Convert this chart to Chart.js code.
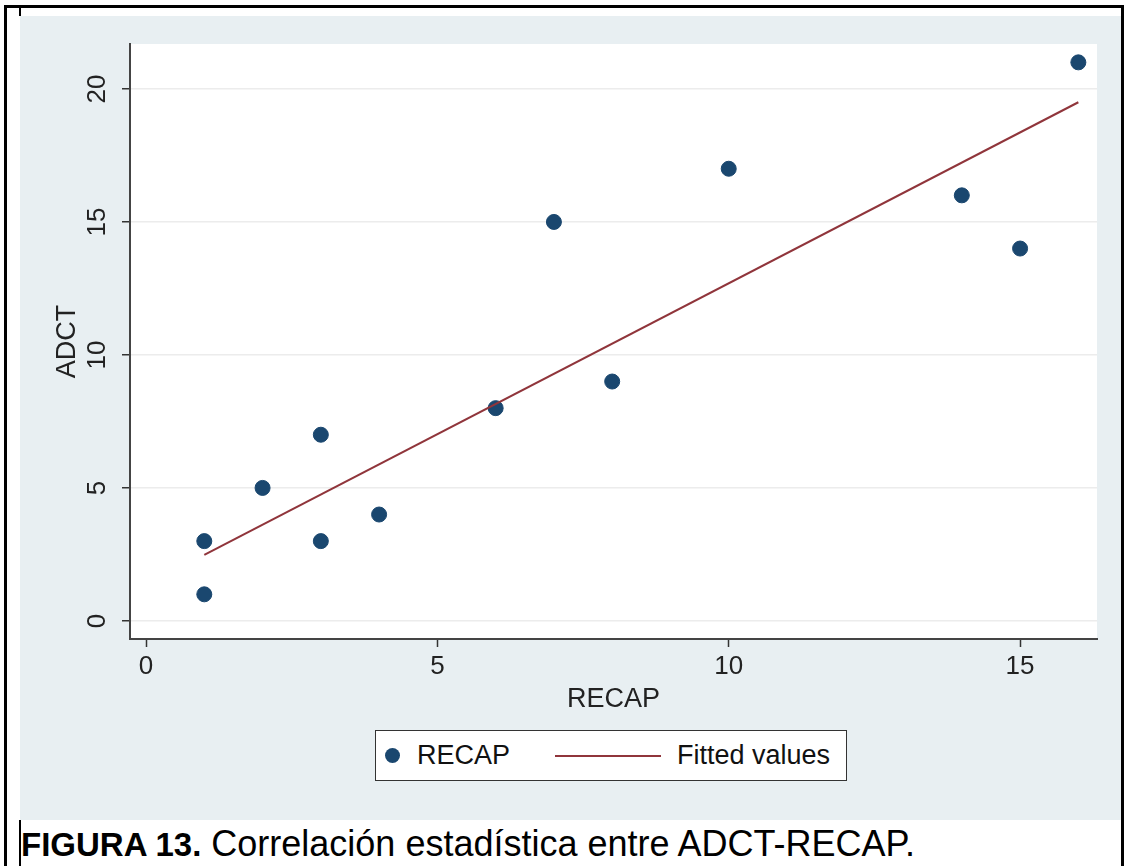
<!DOCTYPE html>
<html>
<head>
<meta charset="utf-8">
<script src="https://cdn.jsdelivr.net/npm/chart.js@4.4.0/dist/chart.umd.min.js"></script>
<style>
  body { margin: 0; background: #fff; width: 1130px; height: 866px; position: relative; overflow: hidden; font-family: "Liberation Sans", Arial, sans-serif; }
  #frame { position: absolute; left: 4px; top: 5px; width: 1114px; height: 870px; border: 3px solid #000; border-bottom: none; }
  .vline { position: absolute; left: 19px; width: 2px; background: #000; }
  #chartBox { position: absolute; left: 20px; top: 16px; width: 1101px; height: 804px; background: #e8eff2; }
  #legend { position: absolute; left: 375px; top: 730px; width: 470px; height: 49px; border: 1.5px solid #333; background: #fff; }
  #legend .dot { position: absolute; left: 9px; top: 17px; width: 15px; height: 15px; border-radius: 50%; }
  #legend .lab { position: absolute; top: 9px; font-size: 27px; color: #111; white-space: nowrap; }
  #legend .seg { position: absolute; left: 179px; top: 24px; width: 106px; height: 2px; }
  #caption { position: absolute; left: 21px; top: 826px; font-size: 36px; line-height: 36px; color: #000; white-space: nowrap; }
  #caption b { font-size: 33px; letter-spacing: 0; }
</style>
</head>
<body>
<div id="frame"></div>
<div class="vline" style="top:8px;height:8px"></div>
<div class="vline" style="top:820px;height:46px"></div>
<div id="chartBox"><canvas id="myChart"></canvas></div>
<div id="legend"></div>
<div id="caption"><b>FIGURA 13.</b> Correlación estadística entre ADCT-RECAP.</div>
<script>
// datos
var recapX = [1, 1, 2, 3, 3, 4, 6, 7, 8, 10, 14, 15, 16]
var adctY = [3, 1, 5, 7, 3, 4, 8, 15, 9, 17, 16, 14, 21]
var fitX = [1, 16]
var fitY = [2.48, 19.5]
var xTicks = [0, 5, 10, 15]
var yTicks = [0, 5, 10, 15, 20]
var seriesNames = ['RECAP', 'Fitted values']

var NAVY = '#1a476f'
var MAROON = '#90353b'

// fondo blanco del area de graficado
var plotBg = {
    id: 'plotBg',
    beforeDraw: function (chart) {
        var a = chart.chartArea
        var ctx = chart.ctx
        ctx.save()
        ctx.fillStyle = '#ffffff'
        ctx.fillRect(a.left, a.top, a.right - a.left, a.bottom - a.top)
        ctx.restore()
    }
}

var ctx = document.getElementById('myChart').getContext('2d');
var chart = new Chart(ctx, {
    type: 'scatter',
    data: {
        datasets: [{
            label: seriesNames[0],
            data: recapX.map((x, i) => ({ x: x, y: adctY[i] })),
            backgroundColor: NAVY,
            borderColor: NAVY,
            pointRadius: 7.5,
            pointHoverRadius: 7.5,
            order: 2
        }, {
            label: seriesNames[1],
            data: fitX.map((x, i) => ({ x: x, y: fitY[i] })),
            showLine: true,
            borderColor: MAROON,
            borderWidth: 2,
            pointRadius: 0,
            order: 1
        }]
    },
    options: {
        responsive: true,
        maintainAspectRatio: false,
        animation: false,
        devicePixelRatio: 1,
        layout: { padding: { left: 31, right: 24, top: 28, bottom: 104 } },
        plugins: { legend: { display: false }, tooltip: { enabled: false } },
        scales: {
            x: {
                type: 'linear',
                min: -0.275,
                max: 16.32,
                afterFit: function (s) { s.height = 77 },
                afterBuildTicks: function (s) { s.ticks = xTicks.map(v => ({ value: v })) },
                ticks: { color: '#222', font: { family: 'Liberation Sans', size: 26 }, padding: 4 },
                grid: { drawOnChartArea: false, tickLength: 8, tickColor: '#333', tickWidth: 1.5 },
                border: { color: '#444', width: 2 },
                title: { display: true, text: 'RECAP', color: '#222', padding: 0, font: { family: 'Liberation Sans', size: 27 } }
            },
            y: {
                type: 'linear',
                min: -0.68,
                max: 21.69,
                afterFit: function (s) { s.width = 79 },
                afterBuildTicks: function (s) { s.ticks = yTicks.map(v => ({ value: v })) },
                ticks: { color: '#222', font: { family: 'Liberation Sans', size: 26 }, padding: 10, minRotation: 90, maxRotation: 90, crossAlign: 'center' },
                grid: { color: '#ececec', lineWidth: 1.5, tickLength: 8, tickColor: '#333', tickWidth: 1.5 },
                border: { color: '#444', width: 2 },
                title: { display: true, text: 'ADCT', color: '#222', padding: 0, font: { family: 'Liberation Sans', size: 27 } }
            }
        }
    },
    plugins: [plotBg]
});

// leyenda con recuadro, como en Stata
var leg = document.getElementById('legend')
leg.innerHTML =
    '<div class="dot" style="background:' + NAVY + '"></div>' +
    '<div class="lab" style="left:41px">' + chart.data.datasets[0].label + '</div>' +
    '<div class="seg" style="background:' + MAROON + '"></div>' +
    '<div class="lab" style="left:301px">' + chart.data.datasets[1].label + '</div>'
</script>
</body>
</html>
